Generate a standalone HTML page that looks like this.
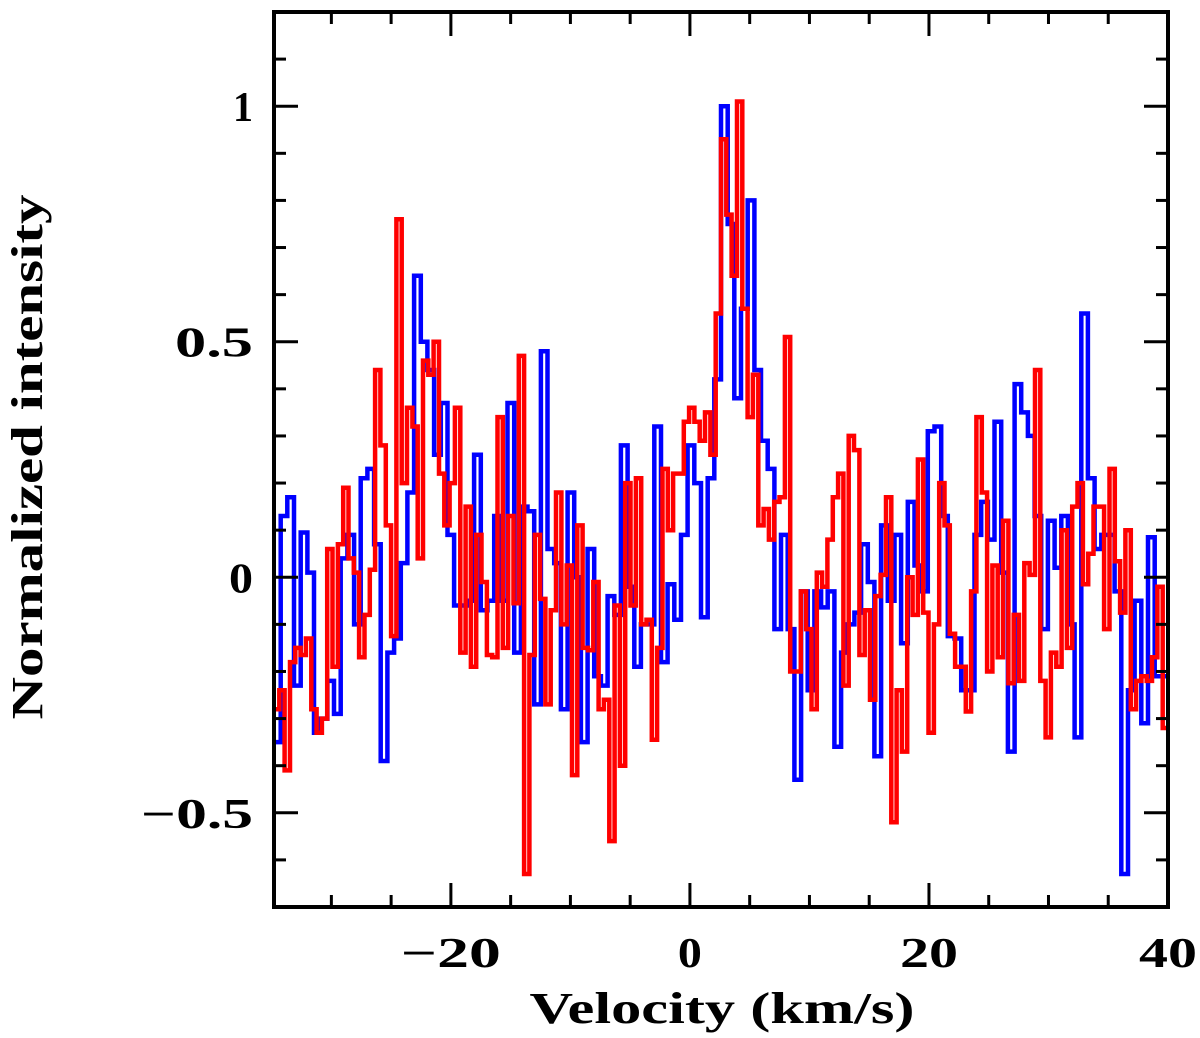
<!DOCTYPE html>
<html><head><meta charset="utf-8"><style>
html,body{margin:0;padding:0;background:#fff;}
svg{display:block;}
text{font-family:"Liberation Serif","DejaVu Serif",serif;font-weight:bold;fill:#000;}
</style></head><body>
<svg id="chart" width="1200" height="1038" viewBox="0 0 1200 1038" xmlns="http://www.w3.org/2000/svg">
<defs><clipPath id="plotclip"><rect x="274" y="12" width="894" height="895"/></clipPath></defs>
<g id="series" clip-path="url(#plotclip)"></g>
<g id="axes"></g>
</svg>
<script>
const xTicksMajor = [-20, 0, 20, 40];
const xTickLabels = ["\u221220", "0", "20", "40"];
const yTicksMajor = [-0.5, 0, 0.5, 1];
const yTickLabels = ["\u22120.5", "0", "0.5", "1"];
const xRange = [-34.8, 40];
const yRange = [-0.7, 1.2];
const blueStart = -34.8;
const blueEnd = 40;
const blueValues = [-0.35,0.13,0.17,-0.23,0.095,0.01,-0.33,-0.3,-0.22,-0.29,0.04,0.09,-0.1,0.21,0.23,0.07,-0.39,-0.16,-0.13,0.03,0.18,0.64,0.5,0.44,0.26,0.37,0.09,-0.06,-0.06,-0.05,0.26,-0.07,-0.05,0.13,-0.05,0.37,-0.16,0.15,0.14,-0.27,0.48,0.06,0.03,-0.28,0.18,0.0,-0.35,0.06,-0.21,-0.23,-0.04,-0.08,0.28,-0.02,-0.19,-0.1,-0.1,0.32,-0.18,-0.015,-0.09,0.09,0.28,0.2,-0.085,0.21,0.42,1.0,0.75,0.38,0.57,0.8,0.44,0.29,0.23,-0.11,0.09,-0.11,-0.43,-0.03,-0.24,-0.03,-0.064,-0.03,-0.36,-0.16,-0.1,-0.075,0.07,-0.01,-0.38,0.11,-0.05,0.09,-0.14,0.16,0.025,-0.03,0.31,0.32,0.13,-0.125,-0.13,-0.24,-0.24,0.09,0.16,0.08,0.33,0.01,-0.37,0.41,0.35,0.3,0.13,-0.11,0.12,0.02,0.13,-0.1,-0.34,0.56,0.21,0.06,0.09,0.09,-0.03,-0.63,-0.24,-0.05,-0.31,0.085,-0.21,-0.21];
const redStart = -34.8;
const redEnd = 40;
const redValues = [-0.28,-0.24,-0.41,-0.18,-0.15,-0.165,-0.13,-0.28,-0.33,-0.3,0.06,-0.19,0.07,0.19,0.04,0.01,-0.17,-0.08,0.016,0.44,0.28,0.11,-0.125,0.76,0.2,0.36,0.32,0.04,0.46,0.43,0.5,0.22,0.11,0.2,0.36,-0.16,0.15,-0.19,0.09,-0.01,-0.165,-0.17,0.34,-0.15,0.13,-0.055,0.47,-0.63,-0.165,0.09,-0.046,-0.27,-0.07,0.18,-0.1,0.025,-0.42,0.11,-0.15,-0.155,-0.01,-0.28,-0.26,-0.56,-0.06,-0.4,0.2,-0.06,0.21,-0.1,-0.09,-0.345,-0.15,0.23,0.1,0.22,0.22,0.33,0.36,0.33,0.29,0.35,0.26,0.56,0.93,0.77,0.64,1.01,0.57,0.34,0.43,0.11,0.145,0.08,0.16,0.17,0.51,-0.2,-0.2,-0.03,-0.11,-0.28,0.01,-0.02,0.08,0.17,0.22,-0.23,0.3,0.27,-0.165,-0.07,-0.26,-0.04,0.005,0.17,-0.52,-0.24,-0.37,0.0,-0.08,0.25,-0.075,-0.33,-0.1,0.2,0.11,-0.12,-0.19,-0.19,-0.285,-0.03,0.34,0.18,-0.2,0.025,-0.17,0.12,-0.225,-0.08,-0.22,0.03,0.005,0.44,-0.22,-0.34,-0.16,-0.19,0.1,-0.15,0.15,0.2,-0.015,0.05,0.15,0.15,-0.11,0.23,0.034,-0.075,0.1,-0.28,-0.22,-0.21,-0.22,-0.17,-0.02,-0.32];

const L=274,R=1168,T=12,B=907;
function sx(v){return L+(v-xRange[0])/(xRange[1]-xRange[0])*(R-L);}
function sy(v){return B-(v-yRange[0])/(yRange[1]-yRange[0])*(B-T);}
const NS="http://www.w3.org/2000/svg";
const series=document.getElementById('series');
const axes=document.getElementById('axes');

function stepPath(vals,v0,v1){
  const w=(v1-v0)/vals.length;
  let d="";
  vals.forEach((v,i)=>{
    const xa=sx(v0+i*w), xb=sx(v0+(i+1)*w), y=sy(v);
    d+=(i===0?"M":"L")+xa.toFixed(1)+","+y.toFixed(1)+"L"+xb.toFixed(1)+","+y.toFixed(1);
  });
  return d;
}
function addLine(vals,v0,v1,color,name){
  const p=document.createElementNS(NS,'path');
  p.setAttribute('d',stepPath(vals,v0,v1));
  p.setAttribute('fill','none');
  p.setAttribute('stroke',color);
  p.setAttribute('stroke-width','4.5');
  p.setAttribute('stroke-linejoin','miter');
  
  
  series.appendChild(p);
}
addLine(blueValues,blueStart,blueEnd,'#0000ff','blue-spectrum');
addLine(redValues,redStart,redEnd,'#ff0000','red-spectrum');

function line(x1,y1,x2,y2,w){
  const l=document.createElementNS(NS,'line');
  l.setAttribute('x1',x1);l.setAttribute('y1',y1);l.setAttribute('x2',x2);l.setAttribute('y2',y2);
  l.setAttribute('stroke','#000');l.setAttribute('stroke-width',w);
  
  
  axes.appendChild(l);
}
function text(x,y,s,anchor,size,name,len){
  const t=document.createElementNS(NS,'text');
  t.setAttribute('x',x);t.setAttribute('y',y);t.setAttribute('text-anchor',anchor);
  t.setAttribute('font-size',size);t.textContent=s;
  if(len){t.setAttribute('textLength',len);t.setAttribute('lengthAdjust','spacingAndGlyphs');}
  
  
  axes.appendChild(t);
  return t;
}
const fr=document.createElementNS(NS,'rect');
fr.setAttribute('x',L);fr.setAttribute('y',T);fr.setAttribute('width',R-L);fr.setAttribute('height',B-T);
fr.setAttribute('fill','none');fr.setAttribute('stroke','#000');fr.setAttribute('stroke-width','4');


axes.appendChild(fr);
for(let v=-30;v<=40;v+=5){
  const x=sx(v); const major=(v%20===0); const len=major?24:12;
  line(x,B,x,B-len,3); line(x,T,x,T+len,3);
}
const xLabelWidths=[100,24,58,58];
xTicksMajor.forEach((v,i)=>text(sx(v),967,xTickLabels[i],'middle',42,'x-tick-label',xLabelWidths[i]));
for(let k=-6;k<=11;k++){
  const v=k/10; const y=sy(v); const major=(k%5===0); const len=major?24:12;
  line(L,y,L+len,y,3); line(R,y,R-len,y,3);
}
const yLabelWidths=[112,24,78,20];
yTicksMajor.forEach((v,i)=>text(253,sy(v)+15,yTickLabels[i],'end',42,'y-tick-label',yLabelWidths[i]));
text(722,1023,'Velocity (km/s)','middle',44,'x-axis-title',385);
const yt=text(0,0,'Normalized intensity','middle',44,'y-axis-title',525);
yt.setAttribute('transform','translate(42,457) rotate(-90)');
</script>
</body></html>
